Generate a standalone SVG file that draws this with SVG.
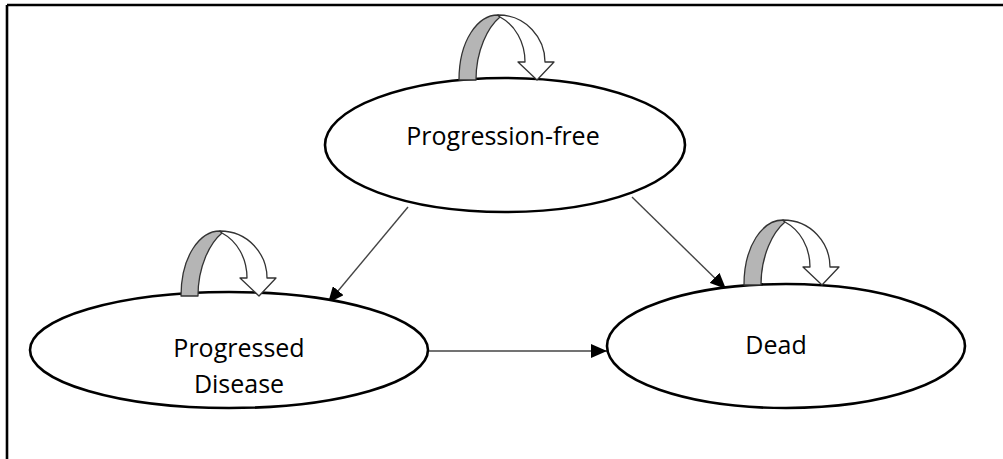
<svg xmlns="http://www.w3.org/2000/svg" width="1003" height="459" viewBox="0 0 1003 459">
<style>
.node ellipse{fill:#fff;stroke:#000;stroke-width:2.6}
.label{font-family:"Open Sans","Liberation Sans",sans-serif;font-size:25px;fill:#000;text-anchor:middle}
.conn line{stroke:#444;stroke-width:1.4}
.back{fill:#b5b5b5;stroke:#333;stroke-width:1.3;stroke-linejoin:round}
.front{fill:#fff;stroke:#333;stroke-width:1.3;stroke-linejoin:round}
</style>
<defs>
<marker id="ah" viewBox="0 0 16 14" refX="16" refY="7" markerWidth="16" markerHeight="14" markerUnits="userSpaceOnUse" orient="auto">
<path d="M0,0 L16,7 L0,14 Z" fill="#000"/>
</marker>
<g id="loop">
<path class="back" d="M459,80 C459,40 478,15 498,15 L500,17 C488,27 476,50 476,80 Z"/>
<path class="front" d="M498,15 C526,15 545,38 545,62 L554,62 L537,80 L518,62 L525,62 C525,42 515,25 500,17 Z"/>
</g>
</defs>
<rect width="1003" height="459" fill="#fff"/>
<g id="frame" stroke="#000" stroke-width="2.6">
<line x1="7" y1="5" x2="1003" y2="5"/>
<line x1="7" y1="5" x2="7" y2="459"/>
</g>
<g id="connectors" class="conn">
<line x1="408" y1="207" x2="328" y2="303" style="marker-end:url(#ah)"/>
<line x1="632" y1="197" x2="726" y2="289" style="marker-end:url(#ah)"/>
<line x1="428" y1="351" x2="607" y2="351" style="marker-end:url(#ah)"/>
</g>
<g id="node-pf" class="node">
<ellipse cx="505" cy="145" rx="180" ry="67"/>
<text class="label" x="503" y="145">Progression-free</text>
</g>
<g id="node-pd" class="node">
<ellipse cx="229" cy="350" rx="199" ry="58"/>
<text class="label" x="239" y="357">Progressed</text>
<text class="label" x="239" y="393">Disease</text>
</g>
<g id="node-dead" class="node">
<ellipse cx="786" cy="346" rx="179" ry="62"/>
<text class="label" x="776" y="354">Dead</text>
</g>
<g id="self-loops">
<use href="#loop"/>
<use href="#loop" transform="translate(-278,216)"/>
<use href="#loop" transform="translate(285,205)"/>
</g>
</svg>
